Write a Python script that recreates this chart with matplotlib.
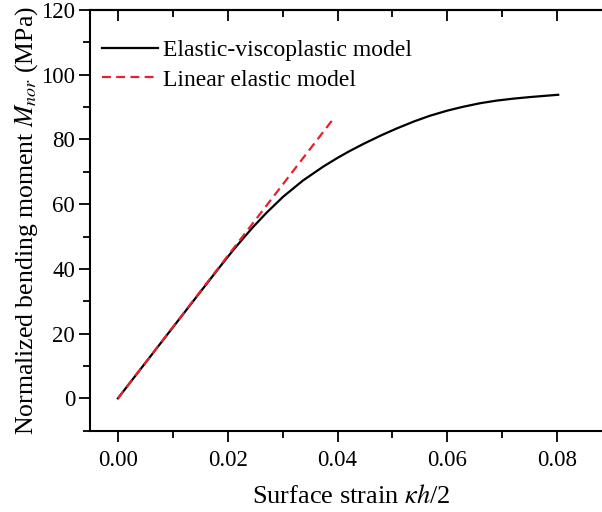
import numpy as np
import matplotlib.pyplot as plt
from matplotlib.ticker import MultipleLocator

plt.rcParams['font.family'] = ['Liberation Serif', 'DejaVu Serif']
plt.rcParams['mathtext.fontset'] = 'stix'

# elastic-viscoplastic response
strain_evp = [0.0, 0.005, 0.010, 0.015, 0.0186, 0.0210, 0.0228, 0.0246, 0.0271, 0.0301,
              0.0337, 0.0374, 0.0400, 0.0422, 0.0447, 0.0480, 0.0508, 0.0540, 0.0568, 0.0600,
              0.0629, 0.0660, 0.0690, 0.0720, 0.0751, 0.0780, 0.0802]
moment_evp = [0.0, 10.95, 21.9, 32.85, 40.7, 45.8, 49.4, 52.9, 57.4, 62.3,
              67.3, 71.6, 74.3, 76.4, 78.6, 81.3, 83.4, 85.6, 87.3, 88.9,
              90.1, 91.2, 92.0, 92.6, 93.1, 93.5, 93.8]

# linear elastic reference
strain_le = [0.0, 0.0393]
moment_le = [0.0, 86.5]

fig = plt.figure(figsize=(6.02, 5.12), dpi=100)
ax = fig.add_axes([0.1503, 0.1588, 0.8663, 0.8217])

ax.plot(strain_evp, moment_evp, color='black', lw=1.6, label='Elastic-viscoplastic model')
ax.plot(strain_le, moment_le, color='#e8202a', lw=1.6, ls=(0, (4, 2.4)), label='Linear elastic model')

ax.set_xlim(-0.005, 0.09)
ax.set_ylim(-10, 120)
ax.set_xticks([0, 0.02, 0.04, 0.06, 0.08])
ax.set_xticklabels(['0.00', '0.02', '0.04', '0.06', '0.08'])
ax.xaxis.set_minor_locator(MultipleLocator(0.01))
ax.yaxis.set_major_locator(MultipleLocator(20))
ax.yaxis.set_minor_locator(MultipleLocator(10))

for s in ax.spines.values():
    s.set_linewidth(1.5)
ax.spines['right'].set_visible(False)

ax.tick_params(axis='both', which='major', labelsize=16.5, width=1.3, length=8, direction='out')
ax.tick_params(axis='both', which='minor', width=1.3, length=5, direction='out')
ax.tick_params(axis='x', which='major', pad=6)
ax.tick_params(axis='y', which='major', pad=3)

# inward ticks along the top edge
top = ax.secondary_xaxis('top')
top.set_xticks([0, 0.02, 0.04, 0.06, 0.08])
top.xaxis.set_minor_locator(MultipleLocator(0.01))
top.tick_params(which='major', direction='in', length=8, width=1.3, labeltop=False)
top.tick_params(which='minor', direction='in', length=5, width=1.3)
top.spines['top'].set_linewidth(1.5)

ax.set_xlabel(r'Surface strain $\kappa h$/2', fontsize=19, labelpad=10)
ax.set_ylabel(r'Normalized bending moment $M_{nor}$ (MPa)', fontsize=18.5, labelpad=1)

ax.legend(loc='upper left', frameon=False, fontsize=17, handlelength=2.4,
          handletextpad=0.2, borderaxespad=0.4, labelspacing=0.35,
          bbox_to_anchor=(-0.015, 0.975))

fig.savefig('out.png', dpi=100)
